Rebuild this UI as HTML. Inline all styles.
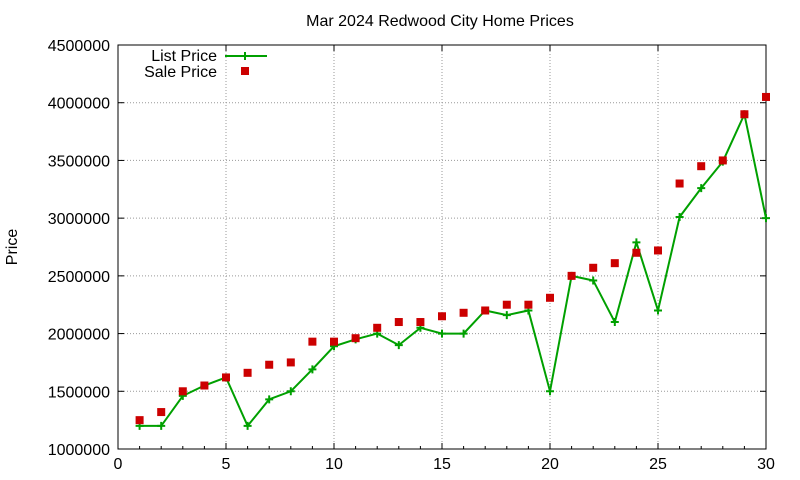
<!DOCTYPE html>
<html><head><meta charset="utf-8"><style>
html,body{margin:0;padding:0;background:#fff;}
svg{display:block;font-family:"Liberation Sans",sans-serif;}
</style></head><body>
<svg id="s" width="800" height="480" xmlns="http://www.w3.org/2000/svg">
<rect width="800" height="480" fill="#fff"/>
<text x="440" y="26" font-size="16" text-anchor="middle">Mar 2024 Redwood City Home Prices</text>
<text transform="translate(17,247) rotate(-90)" font-size="16" text-anchor="middle">Price</text>
<g id="grid"></g>
<rect x="118" y="45" width="648" height="404" fill="none" stroke="#000" stroke-width="1"/>
<g id="lbl" font-size="16"></g>
<g id="ser"></g>
<text x="217" y="61" font-size="16" text-anchor="end">List Price</text>
<line x1="225" y1="56" x2="267" y2="56" stroke="#00a000" stroke-width="2"/>
<path d="M241 56h8M245 52v8" stroke="#00a000" stroke-width="2"/>
<text x="217" y="77" font-size="16" text-anchor="end">Sale Price</text>
<rect x="241" y="67" width="8" height="8" fill="#cc0000"/>
</svg>
<script>
var X=function(v){return 118+v*21.6},Y=function(v){return 449-(v-1000000)/500000*57.714};
var g='',l='';
for(var i=0;i<=6;i++){var x=X(i*5);
 if(i>0&&i<6)g+='<line x1="'+x+'" y1="45" x2="'+x+'" y2="449" stroke="#999" stroke-dasharray="1,2"/>';
 g+='<line x1="'+x+'" y1="449" x2="'+x+'" y2="443" stroke="#000"/><line x1="'+x+'" y1="45" x2="'+x+'" y2="51" stroke="#000"/>';
 l+='<text x="'+x+'" y="469" text-anchor="middle">'+(i*5)+'</text>';}
for(var i=0;i<=7;i++){var v=1000000+i*500000,y=Y(v);
 if(i>0&&i<7)g+='<line x1="118" y1="'+y+'" x2="766" y2="'+y+'" stroke="#999" stroke-dasharray="1,2"/>';
 g+='<line x1="118" y1="'+y+'" x2="124" y2="'+y+'" stroke="#000"/><line x1="760" y1="'+y+'" x2="766" y2="'+y+'" stroke="#000"/>';
 l+='<text x="110" y="'+(y+6)+'" text-anchor="end">'+v+'</text>';}
for(var i=1;i<=29;i++){var x=X(i);g+='<line x1="'+x+'" y1="449" x2="'+x+'" y2="446" stroke="#000"/>';}
document.getElementById('grid').innerHTML=g;document.getElementById('lbl').innerHTML=l;
var L=[1.2,1.2,1.46,1.55,1.62,1.2,1.43,1.5,1.69,1.89,1.95,2.0,1.9,2.05,2.0,2.0,2.2,2.16,2.2,1.5,2.5,2.46,2.1,2.79,2.2,3.01,3.26,3.49,3.9,3.0];
var S=[1.25,1.32,1.5,1.55,1.62,1.66,1.73,1.75,1.93,1.93,1.96,2.05,2.1,2.1,2.15,2.18,2.2,2.25,2.25,2.31,2.5,2.57,2.61,2.7,2.72,3.3,3.45,3.5,3.9,4.05];
var s='',p='';
for(var i=0;i<30;i++){var x=X(i+1),y=Y(L[i]*1e6);p+=(i?'L':'M')+x+' '+y;}
s+='<path d="'+p+'" fill="none" stroke="#00a000" stroke-width="2"/>';
for(var i=0;i<30;i++){var x=X(i+1),y=Y(L[i]*1e6);s+='<path d="M'+(x-4)+' '+y+'h8M'+x+' '+(y-4)+'v8" stroke="#00a000" stroke-width="2"/>';}
for(var i=0;i<30;i++){var x=X(i+1),y=Y(S[i]*1e6);s+='<rect x="'+(x-4)+'" y="'+(y-4)+'" width="8" height="8" fill="#cc0000"/>';}
document.getElementById('ser').innerHTML=s;
</script>
</body></html>
